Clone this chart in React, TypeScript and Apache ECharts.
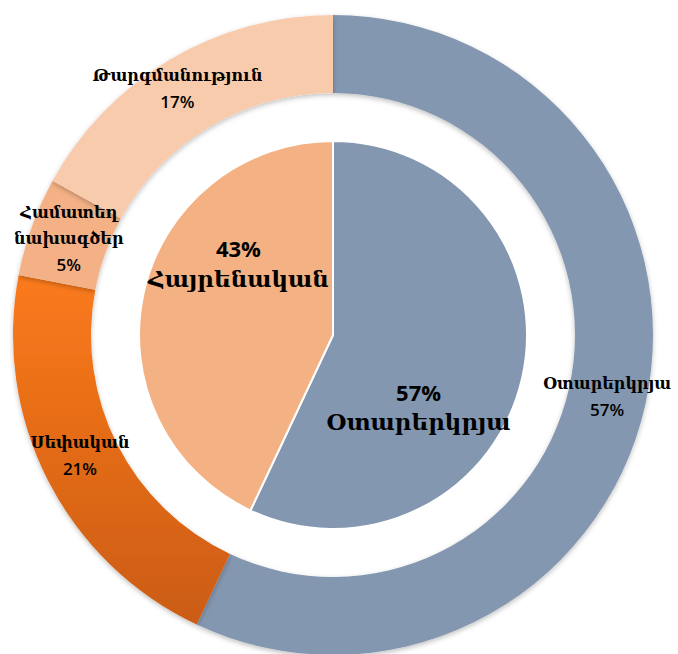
import React, { useEffect, useRef } from "react";
import * as echarts from "echarts";

const outerNames = ["Օտարերկրյա", "Սեփական", "Համատեղ նախագծեր", "Թարգմանություն"];
const outerValues = [57, 21, 5, 17];
const innerNames = ["Օտարերկրյա", "Հայրենական"];
const innerValues = [57, 43];

const outerColors: any[] = [
  "#8497B0",
  new echarts.graphic.LinearGradient(0, 0, 0, 1, [
    { offset: 0, color: "#FB7A1C" },
    { offset: 1, color: "#CB5C12" },
  ]),
  "#F3B185",
  "#F8CBAD",
];
const innerColors = ["#8497B0", "#F4B183"];

const outerOffsets = [
  [-3, 0],
  [0, -8],
  [3, 0],
  [-11, -2],
];
const innerOffsets = [
  [-12, 50],
  [3, -50],
];

const nameFont = "'DejaVu Serif', serif";
const numFont = "'Open Sans', 'Liberation Sans', sans-serif";

export default function App() {
  const ref = useRef<HTMLDivElement>(null);
  useEffect(() => {
    if (!ref.current) return;
    const chart = echarts.init(ref.current, null, { renderer: "svg" });
    chart.setOption({
      animation: false,
      backgroundColor: "#ffffff",
      series: [
        {
          type: "pie",
          center: [333, 335],
          radius: [242, 320],
          startAngle: 90,
          clockwise: true,
          silent: true,
          itemStyle: {
            shadowBlur: 5,
            shadowColor: "rgba(0,0,0,0.25)",
            shadowOffsetY: 2,
          },
          label: {
            show: true,
            position: "inside",
            formatter: (p: any) =>
              p.name
                .split(" ")
                .map((w: string) => `{n|${w}}`)
                .join("\n") + `\n{p|${p.value}%}`,
            rich: {
              n: { fontFamily: nameFont, fontSize: 16, fontWeight: "bold", color: "#000", lineHeight: 26 },
              p: { fontFamily: numFont, fontSize: 17, fontWeight: 600, color: "#000", lineHeight: 26 },
            },
          },
          labelLine: { show: false },
          labelLayout: (params: any) => ({
            dx: outerOffsets[params.dataIndex][0],
            dy: outerOffsets[params.dataIndex][1],
          }),
          data: outerNames.map((n, i) => ({
            name: n,
            value: outerValues[i],
            itemStyle: { color: outerColors[i] },
          })),
        },
        {
          type: "pie",
          center: [333, 335],
          radius: [0, 194],
          startAngle: 90,
          clockwise: true,
          silent: true,
          itemStyle: { borderColor: "#ffffff", borderWidth: 2 },
          label: {
            show: true,
            position: "inside",
            formatter: (p: any) => `{p|${p.value}%}\n{n|${p.name}}`,
            rich: {
              n: { fontFamily: nameFont, fontSize: 23, fontWeight: "bold", color: "#000", lineHeight: 30 },
              p: { fontFamily: numFont, fontSize: 22, fontWeight: "bold", color: "#000", lineHeight: 30 },
            },
          },
          labelLine: { show: false },
          labelLayout: (params: any) => ({
            dx: innerOffsets[params.dataIndex][0],
            dy: innerOffsets[params.dataIndex][1],
          }),
          data: innerNames.map((n, i) => ({
            name: n,
            value: innerValues[i],
            itemStyle: { color: innerColors[i] },
          })),
        },
      ],
    });
    return () => chart.dispose();
  }, []);
  return (
    <div
      ref={ref}
      style={{ position: "fixed", left: 0, top: 0, width: 678, height: 654 }}
    />
  );
}
